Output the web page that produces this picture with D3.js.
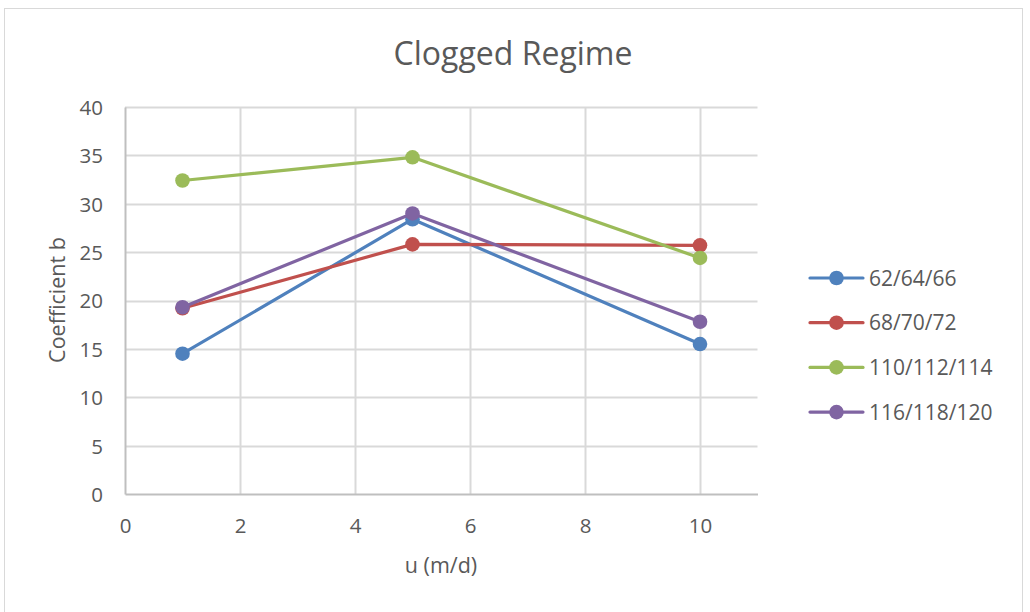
<!DOCTYPE html>
<html>
<head>
<meta charset="utf-8">
<script src="https://cdn.jsdelivr.net/npm/d3@7"></script>
<style>
  html, body { margin: 0; padding: 0; background: #fff; }
  svg { display: block; font-family: "Open Sans", sans-serif; }
</style>
</head>
<body>
<svg id="chart" width="1030" height="612"></svg>
<script>
// Flow velocity u (m/d) at which coefficient b was fitted
const uValues = [1, 5, 10];

// Coefficient b for each column group
const seriesNames = ["62/64/66", "68/70/72", "110/112/114", "116/118/120"];
const b62 = [14.5, 28.4, 15.5];
const b68 = [19.2, 25.8, 25.7];
const b110 = [32.4, 34.8, 24.4];
const b116 = [19.3, 29.0, 17.8];
const seriesColors = ["#4F81BD", "#C0504D", "#9BBB59", "#8064A2"];

const xTicks = [0, 2, 4, 6, 8, 10];
const yTicks = [0, 5, 10, 15, 20, 25, 30, 35, 40];

const series = [b62, b68, b110, b116].map((vals, i) => ({
  name: seriesNames[i],
  color: seriesColors[i],
  points: uValues.map((u, j) => ({ u, b: vals[j] }))
}));

const svg = d3.select("#chart");
const textColor = "#595959";
const fontFamily = "'Open Sans', sans-serif";

// outer chart border
svg.append("rect")
  .attr("x", 4.5).attr("y", 8.5)
  .attr("width", 1018).attr("height", 620)
  .attr("fill", "#fff").attr("stroke", "#d9d9d9").attr("stroke-width", 1);

const plot = { left: 125, right: 757.5, top: 107, bottom: 494 };

const x = d3.scaleLinear().domain([0, 11]).range([plot.left, plot.right]);
const y = d3.scaleLinear().domain([0, 40]).range([plot.bottom, plot.top]);

// gridlines
const grid = svg.append("g");
grid.selectAll("line.h").data(yTicks.filter(d => d > 0)).join("line")
  .attr("x1", plot.left).attr("x2", plot.right)
  .attr("y1", d => Math.round(y(d)) + 0.5).attr("y2", d => Math.round(y(d)) + 0.5)
  .attr("stroke", "#d9d9d9").attr("stroke-width", 2);
grid.selectAll("line.v").data(xTicks.filter(d => d > 0)).join("line")
  .attr("y1", plot.top).attr("y2", plot.bottom)
  .attr("x1", d => Math.round(x(d)) + 0.5).attr("x2", d => Math.round(x(d)) + 0.5)
  .attr("stroke", "#d9d9d9").attr("stroke-width", 2);

// axes
const xAxis = svg.append("g").attr("transform", `translate(0,${plot.bottom})`)
  .call(d3.axisBottom(x).tickValues(xTicks).tickSize(0));
const yAxis = svg.append("g").attr("transform", `translate(${plot.left},0)`)
  .call(d3.axisLeft(y).tickValues(yTicks).tickSize(0).tickPadding(22));
[xAxis, yAxis].forEach(g => {
  g.select(".domain").attr("stroke", "#bfbfbf").attr("stroke-width", 2);
  g.selectAll("text").attr("fill", textColor).attr("font-size", 20.5)
    .attr("font-family", fontFamily);
});
xAxis.selectAll("text").attr("dy", "0.71em").attr("y", 24);
yAxis.selectAll("text").attr("dy", "0.36em");

// lines and markers
const line = d3.line().x(d => x(d.u)).y(d => y(d.b));
const sg = svg.append("g").selectAll("g").data(series).join("g");
sg.append("path")
  .attr("d", d => line(d.points))
  .attr("fill", "none").attr("stroke", d => d.color)
  .attr("stroke-width", 3.2).attr("stroke-linejoin", "round").attr("stroke-linecap", "round");
sg.selectAll("circle").data(d => d.points.map(p => ({ ...p, color: d.color }))).join("circle")
  .attr("cx", d => x(d.u)).attr("cy", d => y(d.b)).attr("r", 7.3)
  .attr("fill", d => d.color);

// title
svg.append("text")
  .attr("x", 513).attr("y", 65).attr("text-anchor", "middle")
  .attr("font-size", 32).attr("fill", textColor)
  .text("Clogged Regime");

// axis titles
svg.append("text")
  .attr("x", 441).attr("y", 573).attr("text-anchor", "middle")
  .attr("font-size", 21.5).attr("fill", textColor)
  .text("u (m/d)");
svg.append("text")
  .attr("transform", "translate(65,300) rotate(-90)").attr("text-anchor", "middle")
  .attr("font-size", 21.5).attr("fill", textColor)
  .text("Coefficient b");

// legend
const legend = svg.append("g").selectAll("g").data(series).join("g")
  .attr("transform", (d, i) => `translate(810,${278 + i * 44.7})`);
legend.append("line")
  .attr("x1", 0).attr("x2", 53).attr("y1", 0).attr("y2", 0)
  .attr("stroke", d => d.color).attr("stroke-width", 3.2).attr("stroke-linecap", "round");
legend.append("circle").attr("cx", 26.5).attr("cy", 0).attr("r", 7.3).attr("fill", d => d.color);
legend.append("text")
  .attr("x", 59).attr("y", 0).attr("dy", "0.36em")
  .attr("font-size", 21).attr("fill", textColor)
  .text(d => d.name);
</script>
</body>
</html>
